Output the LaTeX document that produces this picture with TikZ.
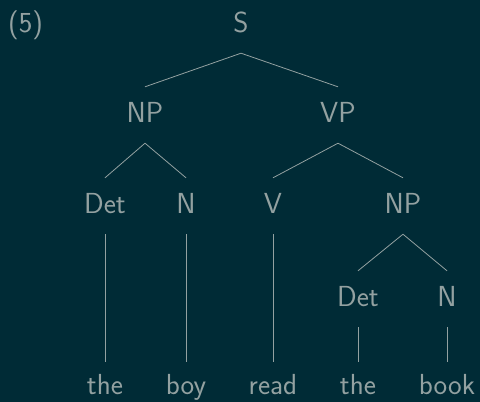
\documentclass[tikz,border=0pt]{standalone}
\usepackage{fontspec}
\definecolor{bgc}{HTML}{002B36}
\definecolor{fgc}{HTML}{93A1A1}
\begin{document}
\begin{tikzpicture}[x=1pt,y=-1pt,
  lab/.style={text=fgc,font=\sffamily\fontsize{29}{35}\selectfont,anchor=base,
    text height=21pt,text depth=7pt,inner xsep=0pt,inner ysep=14pt},
  leaf/.style={lab,text height=18pt},
  edge/.style={draw=fgc,line width=0.8pt}]
\fill[bgc] (0,0) rectangle (480,402);
\useasboundingbox (0,0) rectangle (480,402);
\node[lab,anchor=base west] (ex) at (8,32) {(5)};
\node[lab] (S) at (241,32) {S};
\node[lab] (NP1) at (145,122) {NP};
\node[lab] (VP) at (338,122) {VP};
\node[lab] (Det1) at (105,213) {Det};
\node[lab] (N1) at (186,213) {N};
\node[lab] (V) at (273,213) {V};
\node[lab] (NP2) at (403,213) {NP};
\node[lab] (Det2) at (358,306) {Det};
\node[lab] (N2) at (447,306) {N};
\node[leaf] (w1) at (105,394) {the};
\node[leaf] (w2) at (186,394) {boy};
\node[leaf] (w3) at (273,394) {read};
\node[leaf] (w4) at (358,394) {the};
\node[leaf] (w5) at (447,394) {book};
\path[edge] (S.south) -- (NP1.north);
\path[edge] (S.south) -- (VP.north);
\path[edge] (NP1.south) -- (Det1.north);
\path[edge] (NP1.south) -- (N1.north);
\path[edge] (VP.south) -- (V.north);
\path[edge] (VP.south) -- (NP2.north);
\path[edge] (NP2.south) -- (Det2.north);
\path[edge] (NP2.south) -- (N2.north);
\path[edge] (Det1.south) -- (w1.north);
\path[edge] (N1.south) -- (w2.north);
\path[edge] (V.south) -- (w3.north);
\path[edge] (Det2.south) -- (w4.north);
\path[edge] (N2.south) -- (w5.north);
\end{tikzpicture}
\end{document}
